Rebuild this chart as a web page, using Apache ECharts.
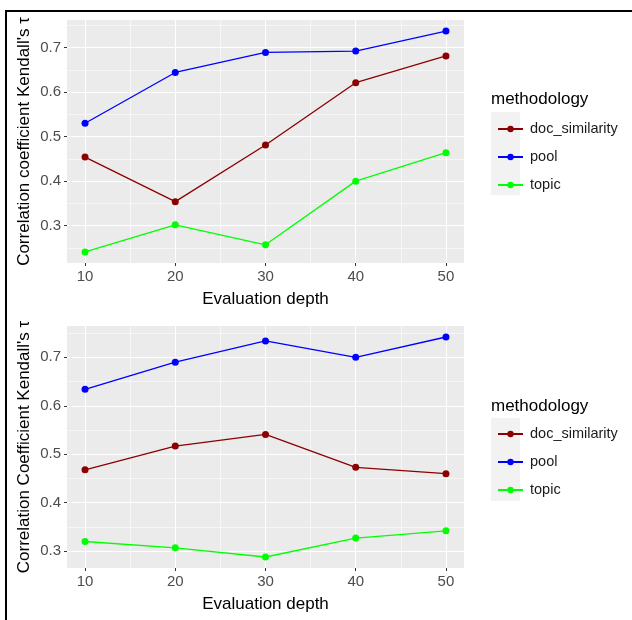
<!DOCTYPE html>
<html>
<head>
<meta charset="utf-8">
<script src="https://cdn.jsdelivr.net/npm/echarts@6/dist/echarts.min.js"></script>
<style>
html,body{margin:0;padding:0;background:#fff;}
#c{width:632px;height:620px;}
</style>
</head>
<body>
<div id="c"></div>
<script>
// ---- data ----
var depths = [10, 20, 30, 40, 50];
var seriesNames = ['doc_similarity', 'pool', 'topic'];
var seriesColors = ['#8B0000', '#0000FF', '#00FF00'];

var topDoc   = [0.454, 0.354, 0.481, 0.621, 0.681];
var topPool  = [0.530, 0.644, 0.689, 0.692, 0.737];
var topTopic = [0.241, 0.302, 0.257, 0.400, 0.464];

var botDoc   = [0.468, 0.517, 0.541, 0.473, 0.460];
var botPool  = [0.634, 0.690, 0.734, 0.700, 0.742];
var botTopic = [0.320, 0.307, 0.288, 0.327, 0.342];

var xTicks = [10, 20, 30, 40, 50];
var xMinor = [15, 25, 35, 45];
var yTicks = [0.3, 0.4, 0.5, 0.6, 0.7];
var yMinor = [0.25, 0.35, 0.45, 0.55, 0.65, 0.75];

var topYName = "Correlation coefficient Kendall's \u03c4";
var botYName = "Correlation Coefficient Kendall's \u03c4";
var xName = 'Evaluation depth';
var legendTitle = 'methodology';

// ---- helpers ----
var FONT = '"Liberation Sans", Arial, sans-serif';
function expand(arrs) {
  var all = [].concat.apply([], arrs);
  var mn = Math.min.apply(null, all), mx = Math.max.apply(null, all);
  var e = (mx - mn) * 0.05;
  return [mn - e, mx + e];
}
var xR = expand([depths]);
var topR = expand([topDoc, topPool, topTopic]);
var botR = expand([botDoc, botPool, botTopic]);

function pairs(vals) { return depths.map(function (d, i) { return [d, vals[i]]; }); }

var grids = [
  {left: 67, top: 20, width: 397, height: 243, backgroundColor: '#EBEBEB', show: true, borderWidth: 0},
  {left: 67, top: 326, width: 397, height: 242, backgroundColor: '#EBEBEB', show: true, borderWidth: 0}
];

function xAxis(gi) {
  return {
    type: 'value', gridIndex: gi, min: xR[0], max: xR[1],
    axisLine: {show: false},
    axisTick: {show: true, length: 3, lineStyle: {color: '#333333', width: 1}, customValues: xTicks},
    axisLabel: {customValues: xTicks, color: '#4D4D4D', fontSize: 15, fontFamily: FONT, margin: 6},
    splitLine: {show: false},
    name: xName, nameLocation: 'middle', nameGap: 28, nameMoveOverlap: false,
    nameTextStyle: {color: '#000', fontSize: 17, fontFamily: FONT}
  };
}
function yAxis(gi, r, name) {
  return {
    type: 'value', gridIndex: gi, min: r[0], max: r[1],
    axisLine: {show: false},
    axisTick: {show: true, length: 3, lineStyle: {color: '#333333', width: 1}, customValues: yTicks},
    axisLabel: {customValues: yTicks, color: '#4D4D4D', fontSize: 15, fontFamily: FONT, margin: 6,
                formatter: function (v) { return v.toFixed(1); }},
    splitLine: {show: false},
    name: name, nameLocation: 'middle', nameGap: 34, nameMoveOverlap: false,
    nameTextStyle: {color: '#000', fontSize: 17, fontFamily: FONT}
  };
}

function gridLines(gi, r) {
  var d = [];
  xTicks.forEach(function (v) { d.push({xAxis: v, lineStyle: {color: '#FFFFFF', width: 1.1, type: 'solid'}}); });
  xMinor.forEach(function (v) { d.push({xAxis: v, lineStyle: {color: '#FFFFFF', width: 0.55, type: 'solid'}}); });
  yTicks.forEach(function (v) { if (v >= r[0] && v <= r[1]) d.push({yAxis: v, lineStyle: {color: '#FFFFFF', width: 1.1, type: 'solid'}}); });
  yMinor.forEach(function (v) { if (v >= r[0] && v <= r[1]) d.push({yAxis: v, lineStyle: {color: '#FFFFFF', width: 0.55, type: 'solid'}}); });
  return {
    type: 'line', name: 'grid' + gi, xAxisIndex: gi, yAxisIndex: gi, data: [], z: 1, silent: true,
    markLine: {symbol: ['none', 'none'], silent: true, animation: false, label: {show: false}, z: 1,
               emphasis: {disabled: true}, data: d}
  };
}

function lineSeries(gi, name, color, vals) {
  return {
    type: 'line', name: name, xAxisIndex: gi, yAxisIndex: gi, data: pairs(vals), z: 3,
    symbol: 'circle', symbolSize: 7, animation: false,
    itemStyle: {color: color}, lineStyle: {color: color, width: 1.3}
  };
}

var series = [gridLines(0, topR), gridLines(1, botR)];
[topDoc, topPool, topTopic].forEach(function (v, i) { series.push(lineSeries(0, seriesNames[i], seriesColors[i], v)); });
[botDoc, botPool, botTopic].forEach(function (v, i) { series.push(lineSeries(1, seriesNames[i], seriesColors[i], v)); });

function legend(top) {
  return {
    data: seriesNames, orient: 'vertical', left: 492, top: top,
    itemWidth: 25, itemHeight: 8, itemGap: 12, selectedMode: false,
    textStyle: {color: '#1A1A1A', fontSize: 14.5, fontFamily: FONT, lineHeight: 16, padding: [0, 0, 0, 2]}
  };
}

var chart = echarts.init(document.getElementById('c'), null, {renderer: 'canvas'});
chart.setOption({
  backgroundColor: '#FFFFFF',
  animation: false,
  grid: grids,
  xAxis: [xAxis(0), xAxis(1)],
  yAxis: [yAxis(0, topR, topYName), yAxis(1, botR, botYName)],
  legend: [legend(116), legend(421)],
  graphic: [
    {type: 'polyline', shape: {points: [[6, 620], [6, 11], [632, 11]]}, style: {stroke: '#000', lineWidth: 2, fill: null}, z: 10},
    {type: 'rect', shape: {x: 491, y: 112, width: 29, height: 83}, style: {fill: '#F2F2F2'}, z: -1},
    {type: 'rect', shape: {x: 491, y: 418, width: 29, height: 83}, style: {fill: '#F2F2F2'}, z: -1},
    {type: 'text', left: 491, top: 91, style: {text: legendTitle, fill: '#000', fontSize: 17, fontFamily: FONT}},
    {type: 'text', left: 491, top: 398, style: {text: legendTitle, fill: '#000', fontSize: 17, fontFamily: FONT}}
  ],
  series: series
});
</script>
</body>
</html>
